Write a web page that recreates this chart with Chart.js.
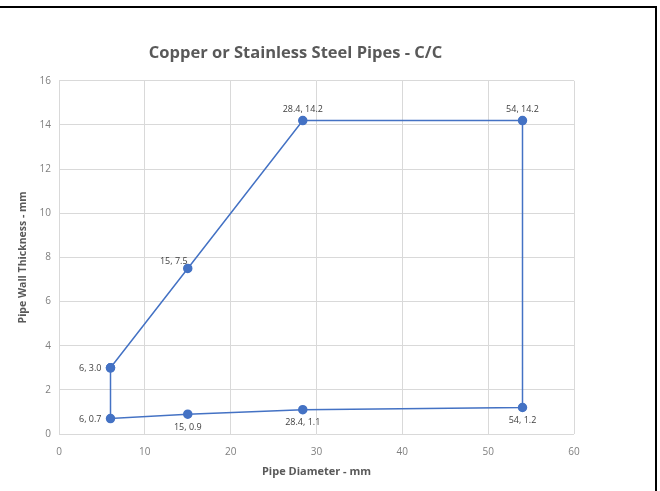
<!DOCTYPE html>
<html>
<head>
<meta charset="utf-8">
<script src="https://cdn.jsdelivr.net/npm/chart.js@4/dist/chart.umd.min.js"></script>
<style>
  html, body { margin: 0; padding: 0; background: #fff; }
  #wrap { position: relative; width: 660px; height: 491px; }
  #frame { position: absolute; left: 0; top: 6px; right: 3px; bottom: 0;
           border-top: 2px solid #000; border-right: 2px solid #000; pointer-events: none; }
</style>
</head>
<body>
<div id="wrap">
  <canvas id="chart" width="660" height="491"></canvas>
  <div id="frame"></div>
</div>
<script>
const diameters = [6, 15, 28.4, 54, 54, 28.4, 15, 6, 6];
const thickness = [3.0, 7.5, 14.2, 14.2, 1.2, 1.1, 0.9, 0.7, 3.0];
const pointLabels = ["6, 3.0", "15, 7.5", "28.4, 14.2", "54, 14.2", "54, 1.2", "28.4, 1.1", "15, 0.9", "6, 0.7", ""];
const labelSide = ["left", "aboveLeft", "above", "above", "below", "below", "below", "left", ""];

const points = diameters.map((d, i) => ({ x: d, y: thickness[i] }));

// draws the "x, y" labels next to each point
const pointLabelPlugin = {
    id: "pointLabels",
    afterDatasetsDraw(chart) {
        const c = chart.ctx;
        const meta = chart.getDatasetMeta(0);
        c.save();
        c.font = "9px 'Open Sans'";
        c.fillStyle = "#404040";
        meta.data.forEach((pt, i) => {
            const txt = pointLabels[i];
            if (!txt) return;
            let x = pt.x, y = pt.y;
            c.textBaseline = "middle";
            if (labelSide[i] === "left") {
                c.textAlign = "right";
                x -= 9;
                y += 1;
            } else if (labelSide[i] === "above") {
                c.textAlign = "center";
                y -= 11;
            } else if (labelSide[i] === "aboveLeft") {
                c.textAlign = "center";
                x -= 14;
                y -= 7;
            } else {
                c.textAlign = "center";
                y += 13;
            }
            c.fillText(txt, x, y);
        });
        c.restore();
    }
};

new Chart(document.getElementById("chart"), {
    type: "scatter",
    data: {
        datasets: [{
            data: points,
            showLine: true,
            borderColor: "#4472C4",
            backgroundColor: "#4472C4",
            borderWidth: 1.5,
            pointRadius: 4,
            pointHoverRadius: 4,
            tension: 0
        }]
    },
    options: {
        responsive: false,
        animation: false,
        layout: { padding: { left: 17, right: 86, top: 43, bottom: 0 } },
        plugins: {
            legend: { display: false },
            tooltip: { enabled: false },
            title: {
                display: true,
                text: "Copper or Stainless Steel Pipes - C/C",
                color: "#595959",
                font: { family: "'Open Sans'", size: 16.5, weight: "bold" },
                padding: { top: 0, bottom: 18 }
            }
        },
        scales: {
            x: {
                type: "linear",
                min: 0,
                max: 60,
                ticks: { stepSize: 10, color: "#7f7f7f", font: { family: "'Open Sans'", size: 10 }, padding: 12 },
                grid: { color: "#d9d9d9", drawTicks: false },
                border: { display: false },
                title: {
                    display: true,
                    text: "Pipe Diameter - mm",
                    color: "#595959",
                    font: { family: "'Open Sans'", size: 11, weight: "bold" },
                    padding: { top: 4, bottom: 13 }
                },
                afterFit(scale) { scale.height = 57; }
            },
            y: {
                min: 0,
                max: 16,
                ticks: { stepSize: 2, color: "#7f7f7f", font: { family: "'Open Sans'", size: 10 }, padding: 8 },
                grid: { color: "#d9d9d9", drawTicks: false },
                border: { display: false },
                title: {
                    display: true,
                    text: "Pipe Wall Thickness - mm",
                    color: "#595959",
                    font: { family: "'Open Sans'", size: 10.5, weight: "bold" },
                    padding: { top: 0, bottom: 4 }
                },
                afterFit(scale) { scale.width = 42; }
            }
        }
    },
    plugins: [pointLabelPlugin]
});
</script>
</body>
</html>
